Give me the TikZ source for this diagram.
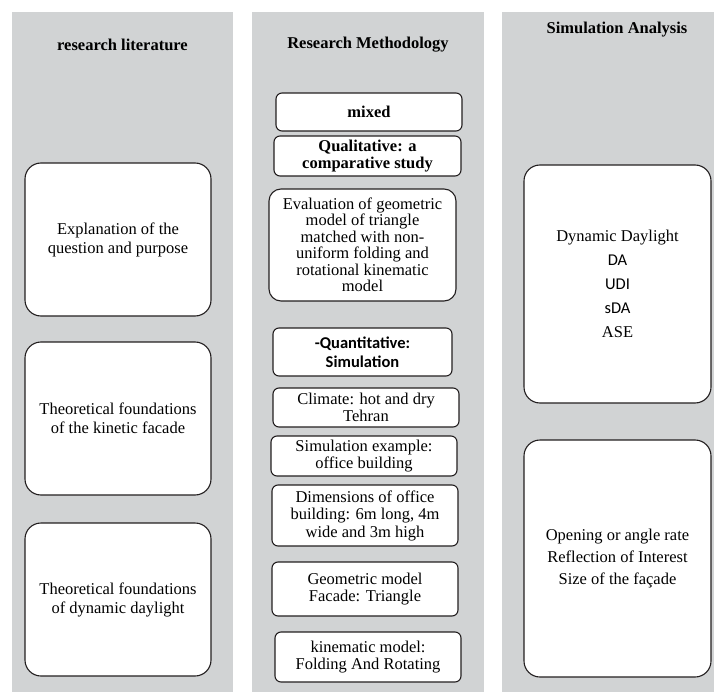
\documentclass[tikz,border=0pt]{standalone}
\usepackage{fontspec}
\setmainfont{Liberation Serif}
\setsansfont{Carlito}
\definecolor{panelgray}{RGB}{209,211,212}
\definecolor{boxline}{RGB}{35,31,32}
\tikzset{
  bigbox/.style={draw=boxline, fill=white, line width=1.1pt, rounded corners=16pt, align=center, inner sep=0pt, font=\fontsize{16.5}{19}\selectfont},
  smallbox/.style={draw=boxline, fill=white, line width=1.1pt, rounded corners=6pt, align=center, inner sep=0pt, font=\fontsize{16.5}{17.5}\selectfont},
  head/.style={align=center, font=\fontsize{16.5}{19}\selectfont\bfseries}
}

\begin{document}
\begin{tikzpicture}[x=1pt,y=-1pt]
\useasboundingbox (0,0) rectangle (714,692);
\fill[panelgray] (12,12) rectangle (233,692);
\fill[panelgray] (252,12) rectangle (484,692);
\fill[panelgray] (502,12) rectangle (714,692);
\node[head] (lithead) at (122.5,45) {research literature};
\node[head] (methhead) at (368,45) {Research Methodology};
\node[head] (simhead) at (617,30) {Simulation Analysis};
\node[bigbox, minimum width=186pt, minimum height=153pt] (question) at (118,239.5) {Explanation of the\\question and purpose};
\node[bigbox, minimum width=186pt, minimum height=153pt] (kinetic) at (118,418.5) {Theoretical foundations\\of the kinetic facade};
\node[bigbox, minimum width=186pt, minimum height=153pt] (daylight) at (118,599.5) {Theoretical foundations\\of dynamic daylight};
\node[smallbox, minimum width=186pt, minimum height=38pt, font=\fontsize{16.5}{17.5}\selectfont\bfseries] (mixed) at (369,112) {mixed};
\node[smallbox, minimum width=187pt, minimum height=40pt, font=\fontsize{16.5}{17.5}\selectfont\bfseries] (quali) at (367.5,156) {Qualitative: a\\comparative study};
\node[smallbox, rounded corners=12pt, minimum width=187pt, minimum height=112pt, font=\fontsize{16.5}{16.5}\selectfont] (evaluation) at (362.5,245) {Evaluation of geometric\\model of triangle\\matched with non-\\uniform folding and\\rotational kinematic\\model};
\node[smallbox, minimum width=179pt, minimum height=48pt, font=\fontsize{16.5}{19}\selectfont\sffamily\bfseries] (quanti) at (362.5,352) {-Quantitative:\\Simulation};
\node[smallbox, minimum width=186pt, minimum height=39pt] (climate) at (366,407.5) {Climate: hot and dry\\Tehran};
\node[smallbox, minimum width=186pt, minimum height=40pt] (example) at (364,456) {Simulation example:\\office building};
\node[smallbox, minimum width=186pt, minimum height=61pt] (dimensions) at (365,515.5) {Dimensions of office\\building: 6m long, 4m\\wide and 3m high};
\node[smallbox, minimum width=186pt, minimum height=54pt] (geometric) at (365,589) {Geometric model\\Facade: Triangle};
\node[smallbox, minimum width=186pt, minimum height=50pt] (kinematic) at (368,657) {kinematic model:\\Folding And Rotating};
\node[bigbox, minimum width=187pt, minimum height=238pt, font=\fontsize{16.5}{24}\selectfont] (dynamic) at (617.5,284) {Dynamic Daylight\\{\sffamily DA}\\{\sffamily UDI}\\{\sffamily sDA}\\ASE};
\node[bigbox, minimum width=187pt, minimum height=237pt, font=\fontsize{16.5}{22}\selectfont] (opening) at (617.5,558.5) {Opening or angle rate\\Reflection of Interest\\Size of the façade};
\end{tikzpicture}
\end{document}
